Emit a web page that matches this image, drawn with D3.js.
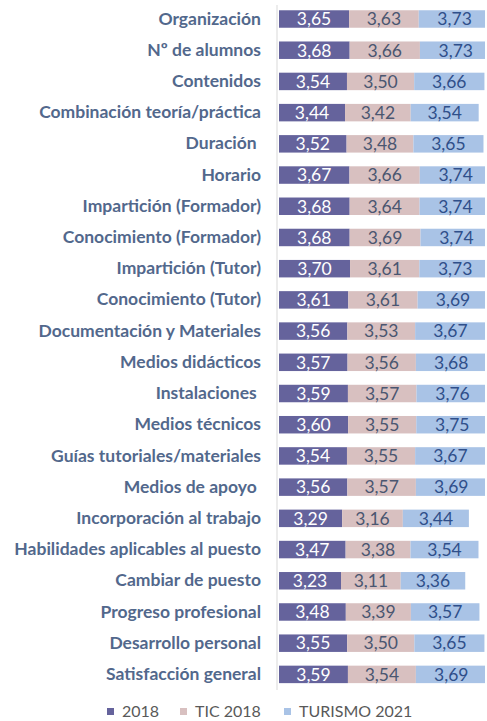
<!DOCTYPE html>
<html><head><meta charset="utf-8">
<script src="https://cdn.jsdelivr.net/npm/d3@7"></script>
<style>
html,body{margin:0;padding:0;background:#fff;}
svg{display:block;}
text{white-space:pre;}
</style></head>
<body>
<svg id="chart" width="487" height="721"></svg>
<script>
const categories = ["Organización","Nº de alumnos","Contenidos","Combinación teoría/práctica","Duración ","Horario","Impartición (Formador)","Conocimiento (Formador)","Impartición (Tutor)","Conocimiento (Tutor)","Documentación y Materiales","Medios didácticos","Instalaciones ","Medios técnicos","Guías tutoriales/materiales","Medios de apoyo ","Incorporación al trabajo","Habilidades aplicables al puesto","Cambiar de puesto","Progreso profesional","Desarrollo personal","Satisfacción general"];
const seriesNames = ["2018","TIC 2018","TURISMO 2021"];
const s2018 = [3.65,3.68,3.54,3.44,3.52,3.67,3.68,3.68,3.70,3.61,3.56,3.57,3.59,3.60,3.54,3.56,3.29,3.47,3.23,3.48,3.55,3.59];
const sTIC = [3.63,3.66,3.50,3.42,3.48,3.66,3.64,3.69,3.61,3.61,3.53,3.56,3.57,3.55,3.55,3.57,3.16,3.38,3.11,3.39,3.50,3.54];
const sTur = [3.73,3.73,3.66,3.54,3.65,3.74,3.74,3.74,3.73,3.69,3.67,3.68,3.76,3.75,3.67,3.69,3.44,3.54,3.36,3.57,3.65,3.69];

const colors = ["#65639c","#d8c0c0","#a9c3e6"];
const textColors = ["#ffffff","#4a5670","#2f4f8a"];
const FONT = "Lato,'Open Sans',sans-serif";

const svg = d3.select("#chart");
const rows = categories.map((c,i)=>({cat:c, v:[s2018[i],sTIC[i],sTur[i]]}));
const stack = d3.stack().keys([0,1,2]).value((d,k)=>d.v[k]);
const stacked = stack(rows);

const x = d3.scaleLinear().domain([0,10.9]).range([279,279+10.9*19.2]);
const y = d3.scaleBand().domain(categories).range([3.4,690]).paddingInner(0.44).paddingOuter(0.22);

svg.append("defs").append("clipPath").attr("id","clip")
  .append("rect").attr("x",0).attr("y",0).attr("width",485).attr("height",721);

const g = svg.append("g").attr("clip-path","url(#clip)");
const fmt = v => v.toFixed(2).replace(".",",");

stacked.forEach((layer,k)=>{
  const lg = g.append("g");
  lg.selectAll("rect").data(layer).enter().append("rect")
    .attr("x",d=>x(d[0])).attr("width",d=>x(d[1])-x(d[0]))
    .attr("y",d=>y(d.data.cat)).attr("height",y.bandwidth())
    .attr("fill",colors[k]);
  lg.selectAll("text").data(layer).enter().append("text")
    .attr("x",d=>(x(d[0])+x(d[1]))/2)
    .attr("y",d=>y(d.data.cat)+y.bandwidth()/2)
    .attr("dy","0.36em").attr("text-anchor","middle")
    .attr("font-family",FONT)
    .attr("font-size",17.5).attr("fill",textColors[k])
    .text(d=>fmt(d.data.v[k]));
});

// axis
const yAxis = d3.axisLeft(y).tickSize(0).tickPadding(16);
const ag = svg.append("g").attr("transform","translate(277,0)").call(yAxis);
ag.select(".domain").attr("stroke","#d9d9d9").attr("d","M0,5V690");
ag.selectAll("text")
  .attr("font-family",FONT)
  .attr("font-weight","bold").attr("font-size",17.5).attr("fill","#52688c");

// legend
const legendX = [107,180,284];
const lg = svg.append("g");
seriesNames.forEach((n,i)=>{
  lg.append("rect").attr("x",legendX[i]).attr("y",708).attr("width",7).attr("height",7).attr("fill",colors[i]);
  lg.append("text").attr("x",legendX[i]+15).attr("y",717)
    .attr("font-family",FONT)
    .attr("font-size",16).attr("fill","#595959").text(n);
});
</script>
</body></html>
